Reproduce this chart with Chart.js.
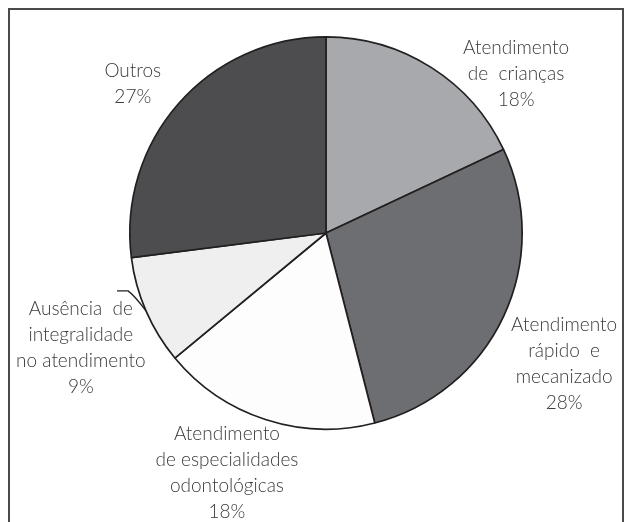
<!DOCTYPE html>
<html>
<head>
<meta charset="utf-8">
<script src="https://cdn.jsdelivr.net/npm/chart.js@4.4.0/dist/chart.umd.min.js"></script>
<style>
  html, body { margin: 0; padding: 0; background: #fff; }
  #wrap { position: relative; width: 632px; height: 522px; overflow: hidden; }
  #frame { position: absolute; left: 8px; top: 8px; width: 616px; height: 540px;
           border: 2px solid #4a4a4a; border-bottom: none; box-sizing: border-box; }
  canvas { position: absolute; left: 0; top: 0; }
</style>
</head>
<body>
<div id="wrap">
  <div id="frame"></div>
  <canvas id="pieChart" width="632" height="522"></canvas>
</div>
<script>
// data
const categories = [
  "Atendimento de crianças",
  "Atendimento rápido e mecanizado",
  "Atendimento de especialidades odontológicas",
  "Ausência de integralidade no atendimento",
  "Outros"
];
const values = [18, 28, 18, 9, 27];
const percentLabels = ["18%", "28%", "18%", "9%", "27%"];
const labelLines = [
  ["Atendimento", "de  crianças"],
  ["Atendimento", "rápido  e", "mecanizado"],
  ["Atendimento", "de especialidades", "odontológicas"],
  ["Ausência  de", "integralidade", "no atendimento"],
  ["Outros"]
];

// styles / layout
const sliceColors = ["#a7a9ac", "#6d6e71", "#fdfdfd", "#efefef", "#4d4d50"];
// label block centre, relative to pie centre, in units of radius
const labelOffsets = [[0.969, -0.811], [1.214, 0.668], [-0.505, 1.224], [-1.25, 0.587], [-0.985, -0.760]];
const leaderIndex = 3;
const FONT = "300 19px Lato, 'Open Sans', sans-serif";
const LINE_H = 26;

const labelPlugin = {
  id: "sliceLabels",
  afterDatasetsDraw(chart) {
    const ctx = chart.ctx;
    const arcs = chart.getDatasetMeta(0).data;
    const first = arcs[0].getProps(["x", "y", "outerRadius"], true);
    const cx = first.x, cy = first.y, r = first.outerRadius;

    ctx.save();
    // leader line for the small slice
    const a = arcs[leaderIndex].getProps(["startAngle", "endAngle", "outerRadius"], true);
    const mid = (a.startAngle + a.endAngle) / 2;
    const ex = cx + a.outerRadius * Math.cos(mid);
    const ey = cy + a.outerRadius * Math.sin(mid);
    ctx.strokeStyle = "#231f20";
    ctx.lineWidth = 1.3;
    ctx.beginPath();
    ctx.moveTo(ex, ey);
    ctx.quadraticCurveTo(ex - 12, ey - 16, ex - 18, ey - 20);
    ctx.lineTo(ex - 29, ey - 20);
    ctx.stroke();

    ctx.font = FONT;
    ctx.fillStyle = "#3a3a3a";
    ctx.textAlign = "center";
    ctx.textBaseline = "middle";
    categories.forEach((c, i) => {
      const lines = labelLines[i].concat([percentLabels[i]]);
      const bx = cx + labelOffsets[i][0] * r;
      const by = cy + labelOffsets[i][1] * r;
      const top = by - (lines.length - 1) * LINE_H / 2;
      lines.forEach((t, j) => ctx.fillText(t, bx, top + j * LINE_H));
    });
    ctx.restore();
  }
};

new Chart(document.getElementById("pieChart"), {
  type: "pie",
  data: {
    labels: categories,
    datasets: [{
      data: values,
      backgroundColor: sliceColors,
      borderColor: "#231f20",
      borderWidth: 1.7,
    }],
  },
  options: {
    responsive: false,
    animation: false,
    layout: { padding: { left: 129, right: 109, top: 36, bottom: 92 } },
    plugins: {
      legend: { display: false },
      tooltip: { enabled: false },
    },
  },
  plugins: [labelPlugin],
});
</script>
</body>
</html>
